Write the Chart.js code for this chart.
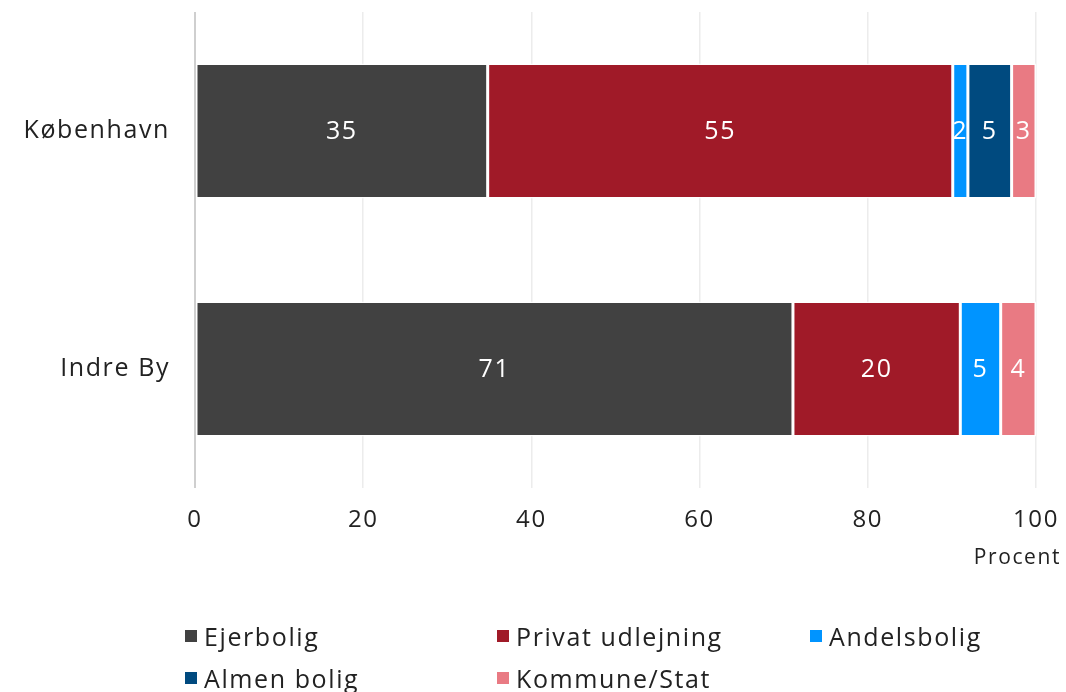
<!DOCTYPE html>
<html>
<head>
<meta charset="utf-8">
<script src="https://cdn.jsdelivr.net/npm/chart.js@4"></script>
<style>
  html, body { margin: 0; padding: 0; background: #fff; }
  #wrap { position: relative; width: 1066px; height: 692px; overflow: hidden; }
  #legend { position: absolute; left: 185px; top: 619px; width: 900px;
    font-family: "Open Sans", sans-serif; font-size: 25px; letter-spacing: 1.6px; color: #222; }
  #legend .item { position: absolute; display: flex; align-items: center; white-space: nowrap; }
  #legend .box { width: 12px; height: 12px; margin-right: 7px; }
</style>
</head>
<body>
<div id="wrap">
  <canvas id="chart" width="1066" height="692"></canvas>
  <div id="legend"></div>
</div>
<script>
const categories = ['København', 'Indre By'];
const seriesNames = ['Ejerbolig', 'Privat udlejning', 'Andelsbolig', 'Almen bolig', 'Kommune/Stat'];
const ejerbolig = [34.8, 71.1];
const privatUdlejning = [55.3, 19.9];
const andelsbolig = [1.8, 4.8];
const almenBolig = [5.2, 0];
const kommuneStat = [2.9, 4.2];
const xTicks = [0, 20, 40, 60, 80, 100];
const colors = ['#414141', '#A01A28', '#0094FF', '#004A7F', '#E97A83'];

const FONT = '"Open Sans", sans-serif';
const seriesValues = [ejerbolig, privatUdlejning, andelsbolig, almenBolig, kommuneStat];

// lidt bredere skrift, som i originalen
const spacing = {
  id: 'spacing',
  beforeInit(chart) { chart.ctx.letterSpacing = '1.6px'; },
  beforeDraw(chart) { chart.ctx.letterSpacing = '1.6px'; },
};

// tal midt i hver bjælke
const valueLabels = {
  id: 'valueLabels',
  afterDatasetsDraw(chart) {
    const ctx = chart.ctx;
    ctx.save();
    ctx.font = '25px ' + FONT;
    ctx.fillStyle = '#ffffff';
    ctx.textAlign = 'center';
    ctx.textBaseline = 'middle';
    chart.data.datasets.forEach((ds, i) => {
      chart.getDatasetMeta(i).data.forEach((bar, j) => {
        const v = ds.data[j];
        if (!v) return;
        const p = bar.getProps(['x', 'base', 'y'], true);
        ctx.fillText(Math.round(v), (p.x + p.base) / 2, p.y + 1);
      });
    });
    // akse-titel
    ctx.font = '21px ' + FONT;
    ctx.fillStyle = '#222';
    ctx.textAlign = 'right';
    ctx.fillText('Procent', chart.chartArea.right + 25, chart.chartArea.bottom + 70);
    ctx.restore();
  }
};

new Chart(document.getElementById('chart'), {
  type: 'bar',
  data: {
    labels: categories,
    datasets: seriesNames.map((name, i) => ({
      label: name,
      data: seriesValues[i],
      backgroundColor: colors[i],
      borderColor: 'rgba(255,255,255,0.9)',
      borderWidth: 1.5,
      borderSkipped: false,
      categoryPercentage: 0.8,
      barPercentage: 0.71,
    })),
  },
  options: {
    indexAxis: 'y',
    responsive: false,
    animation: false,
    layout: { padding: { top: 12, right: 30, bottom: 144, left: 0 } },
    plugins: { legend: { display: false }, tooltip: { enabled: false } },
    scales: {
      x: {
        stacked: true,
        min: 0,
        max: 100,
        afterBuildTicks: (s) => { s.ticks = xTicks.map(v => ({ value: v })); },
        afterFit: (s) => { s.height = 60; s.paddingLeft = 0; s.paddingRight = 0; },
        border: { display: false },
        grid: {
          drawTicks: false,
          color: (c) => c.tick && c.tick.value === 0 ? '#cfcfcf' : '#ececec',
          lineWidth: (c) => c.tick && c.tick.value === 0 ? 2 : 1.5,
        },
        ticks: { padding: 18, color: '#222', font: { family: FONT, size: 24 } },
      },
      y: {
        stacked: true,
        afterFit: (s) => { s.width = 195; s.paddingTop = 0; s.paddingBottom = 0; },
        border: { display: false },
        grid: { display: false, drawTicks: false },
        ticks: { padding: 25, color: '#222', font: { family: FONT, size: 25 } },
      },
    },
  },
  plugins: [spacing, valueLabels],
});

// forklaring i to rækker
const legend = document.getElementById('legend');
const pos = [[0, 0], [312, 0], [625, 0], [0, 42], [312, 42]];
seriesNames.forEach((name, i) => {
  const el = document.createElement('div');
  el.className = 'item';
  el.style.left = pos[i][0] + 'px';
  el.style.top = pos[i][1] + 'px';
  el.innerHTML = '<span class="box" style="background:' + colors[i] + '"></span><span>' + name + '</span>';
  legend.appendChild(el);
});
</script>
</body>
</html>
